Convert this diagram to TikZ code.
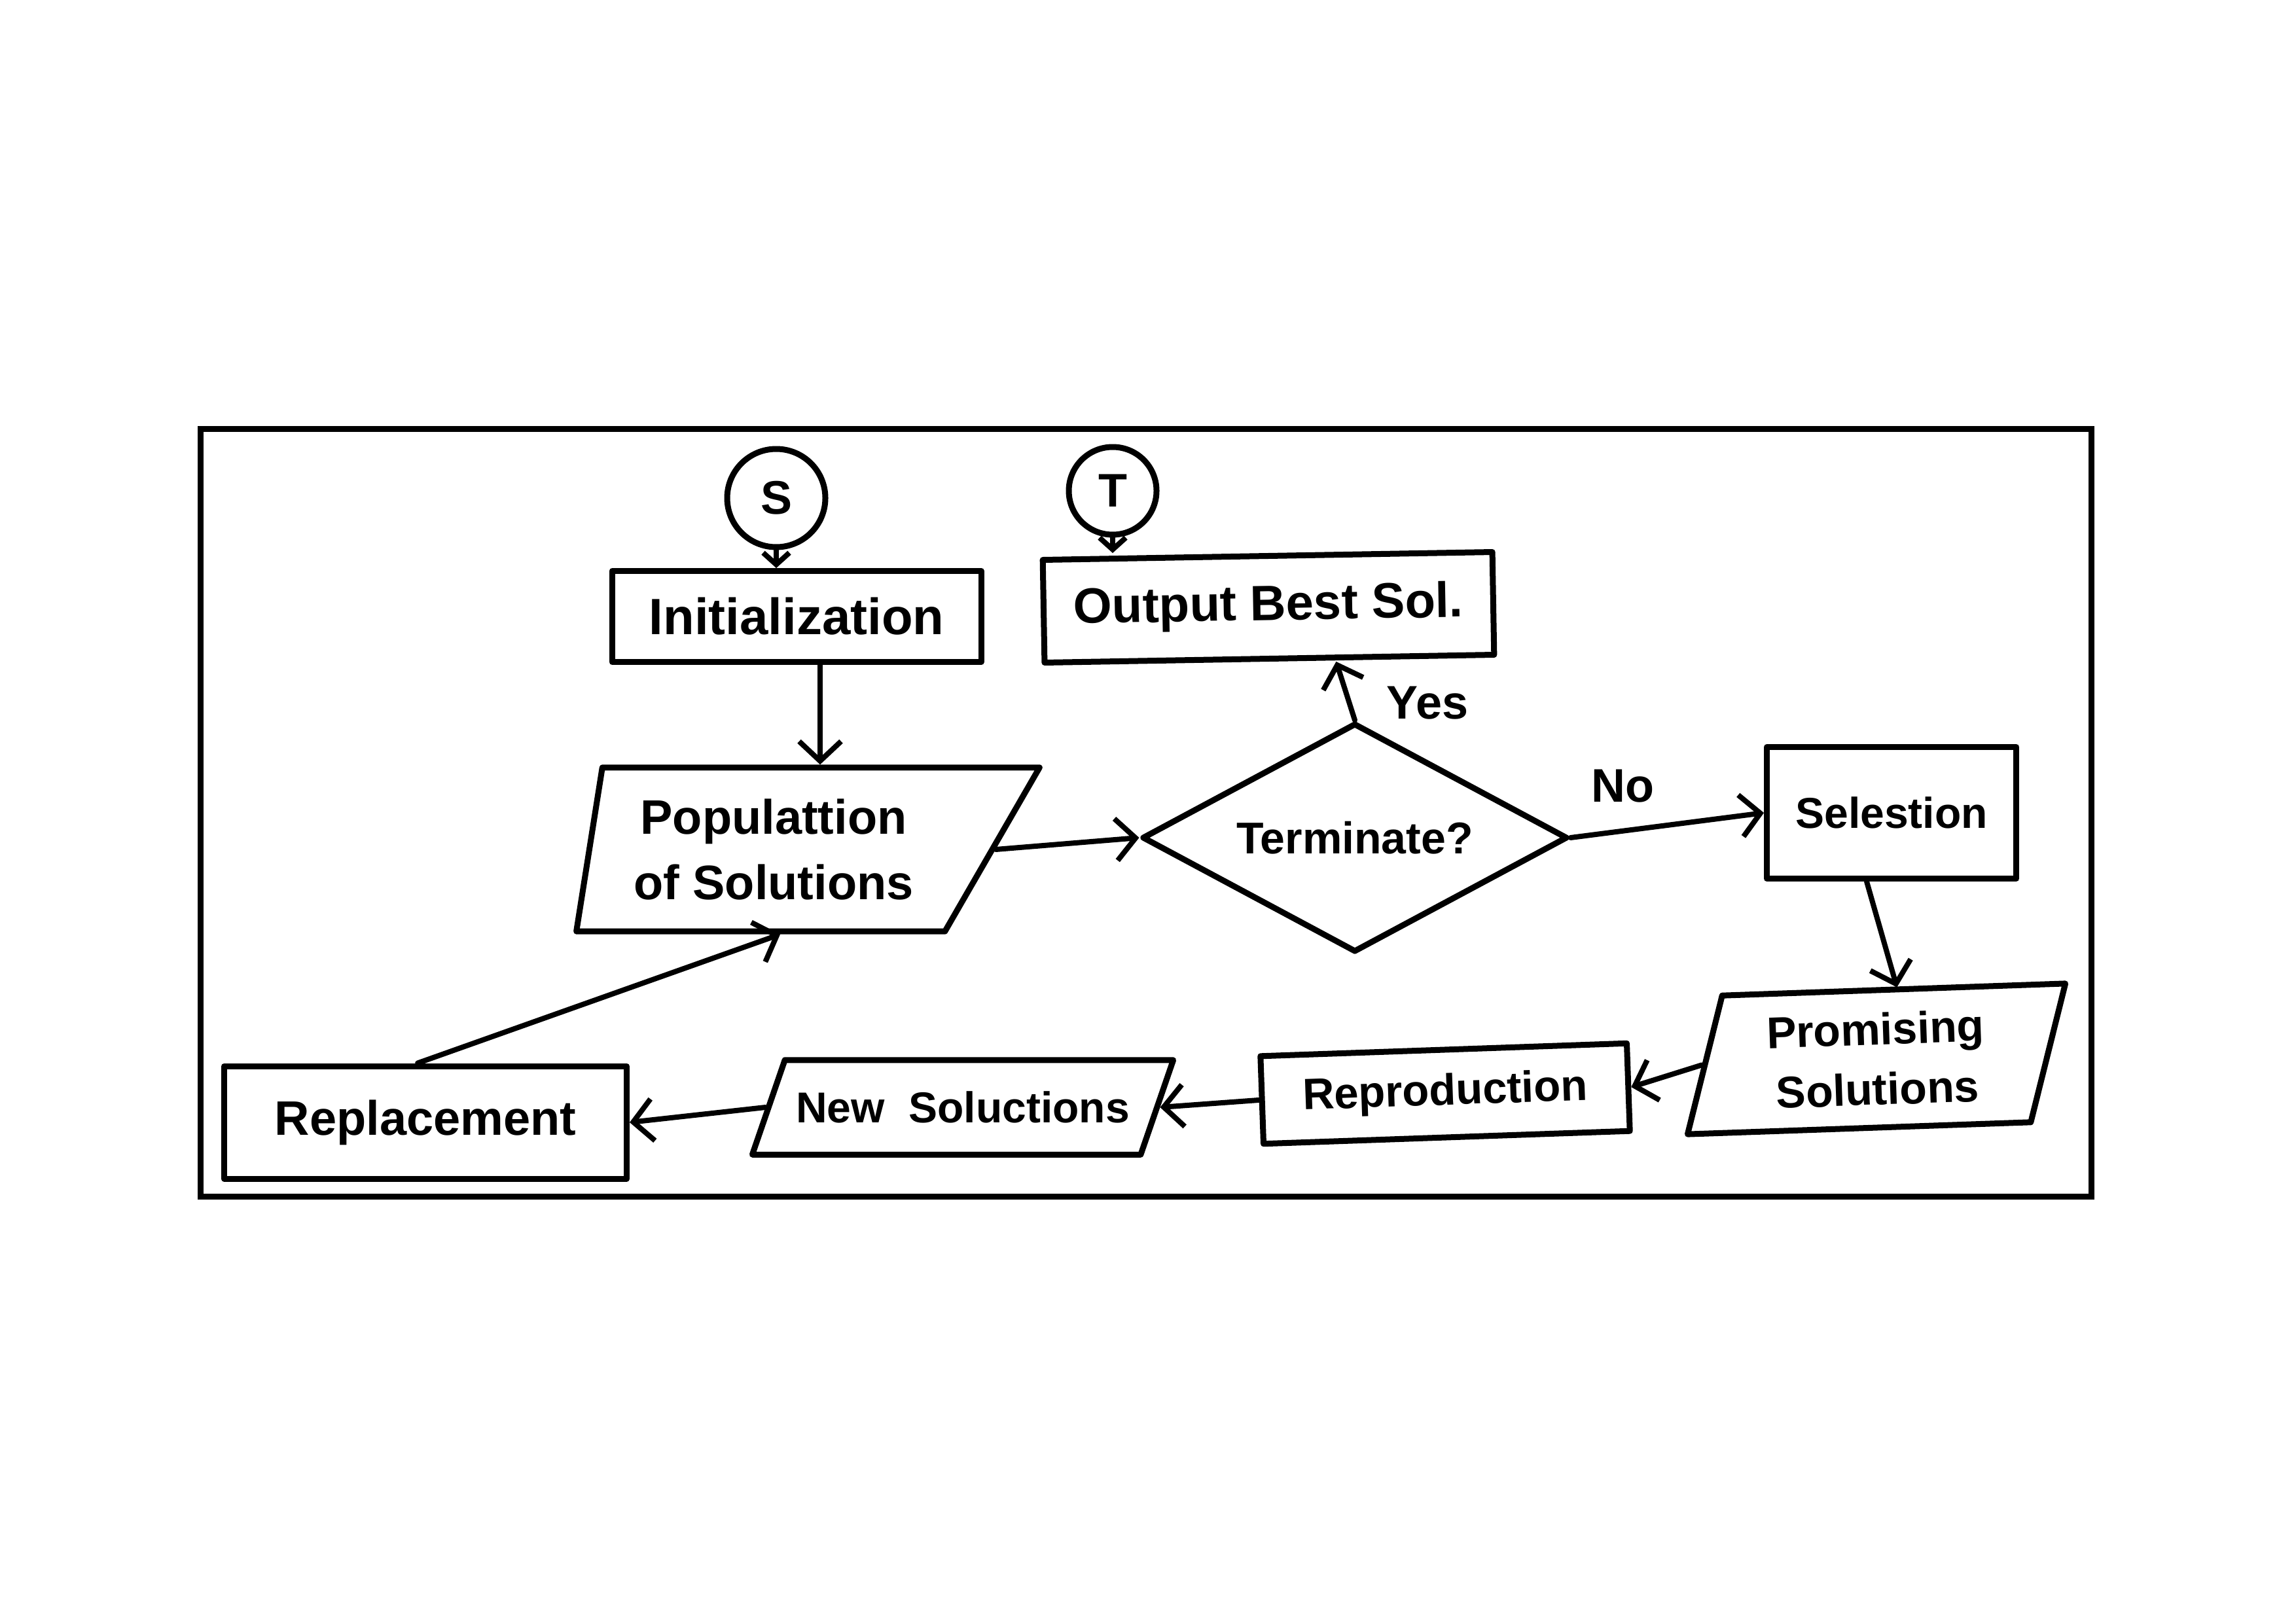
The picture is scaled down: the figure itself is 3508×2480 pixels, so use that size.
\documentclass[tikz,border=0pt]{standalone}
\usepackage{fontspec}
\setmainfont{Liberation Sans}
\usetikzlibrary{shapes.geometric,arrows.meta}
\begin{document}
\begin{tikzpicture}[x=1pt,y=-1pt,
  every node/.style={font=\fontsize{72}{80}\selectfont\bfseries},
  shp/.style={draw, line width=9pt, line join=round, inner sep=0pt},
  boxnode/.style={shp, rectangle},
  para/.style={shp, trapezium},
  conn/.style={line width=8pt, line cap=round, -{Straight Barb[length=30pt,width=64pt]}},
  shortconn/.style={line width=8pt, line cap=round, -{Straight Barb[length=18pt,width=40pt]}},
  term/.style={shp, circle}]
\fill[white] (0,0) rectangle (3508,2480);
\useasboundingbox (0,0) rectangle (3508,2480);
\draw[line width=9pt] (306,655) rectangle (3195,1828);

\node[term, minimum size=150pt] (s) at (1186,761) {S};
\node[term, minimum size=134pt] (t) at (1700,750) {T};
\node[boxnode, minimum width=564pt, minimum height=139pt,
  font=\fontsize{78}{86}\selectfont\bfseries] (init) at (1217,942) {Initialization};
\node[boxnode, minimum width=687pt, minimum height=157pt, rotate=1,
  font=\fontsize{76}{84}\selectfont\bfseries] (out) at (1938,928) {Output Best Sol.};
\node[para, trapezium left angle=81, trapezium right angle=120,
  inner xsep=48pt, inner ysep=48pt, align=center,
  font=\fontsize{74}{100}\selectfont\bfseries] (pop) at (1182,1298) {Populattion\\of Solutions};
\node[shp, diamond, aspect=1.86, minimum width=650pt, minimum height=350pt,
  font=\fontsize{68}{76}\selectfont\bfseries] (dec) at (2070,1280) {Terminate?};
\node[boxnode, minimum width=381pt, minimum height=201pt,
  font=\fontsize{66}{74}\selectfont\bfseries] (sel) at (2890,1242) {Selestion};
\node[para, trapezium left angle=74, trapezium right angle=106, rotate=2,
  inner xsep=66pt, inner ysep=34pt, align=center,
  font=\fontsize{68}{92}\selectfont\bfseries] (prom) at (2867,1618) {Promising\\Solutions};
\node[boxnode, minimum width=560pt, minimum height=134pt, rotate=2,
  font=\fontsize{67}{74}\selectfont\bfseries] (repro) at (2208,1671) {Reproduction};
\node[para, trapezium left angle=71, trapezium right angle=109,
  inner xsep=17pt, inner ysep=48pt,
  font=\fontsize{66}{74}\selectfont\bfseries] (news) at (1471,1692) {New\ \ Soluctions};
\node[boxnode, minimum width=615pt, minimum height=172pt,
  font=\fontsize{74}{82}\selectfont\bfseries] (repl) at (650,1715) {Replacement};

\node (yes) at (2181,1074) {Yes};
\node (no) at (2479,1201) {No};

\draw[shortconn] (s.south) -- (s.south |- init.north);
\draw[shortconn] (t.south) -- (t.south |- out.north);
\draw[conn] ([xshift=36pt]init.south) -- ([xshift=36pt]init.south |- pop.north);
\draw[conn] (pop.east) -- (dec.west);
\draw[conn] (dec.north) -- ([xshift=102pt]out.south);
\draw[conn] (dec.east) -- (sel.west);
\draw[conn] ([xshift=-38pt]sel.south) -- ([xshift=35pt]prom.north);
\draw[conn] (prom.west) -- (repro.east);
\draw[conn] (repro.west) -- (news.east);
\draw[conn] (news.west) -- (repl.east);
\draw[conn] ([xshift=-12pt]repl.north) -- ([xshift=10pt]pop.south);
\end{tikzpicture}
\end{document}
